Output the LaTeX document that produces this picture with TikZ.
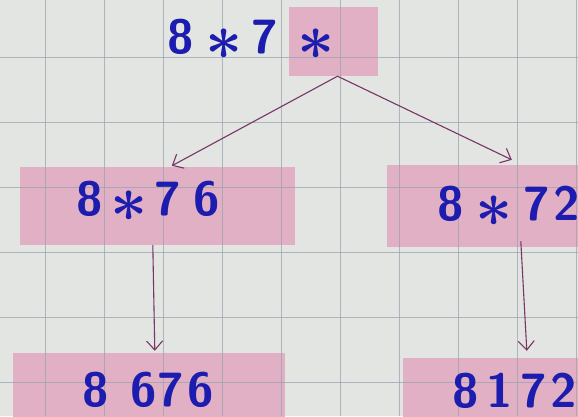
\documentclass[tikz,border=0pt]{standalone}
\usepackage{graphicx}
\usetikzlibrary{arrows.meta}
\definecolor{paper}{RGB}{226,229,226}
\definecolor{gridc}{RGB}{150,162,172}
\definecolor{pinkbox}{RGB}{226,176,196}
\definecolor{ink}{RGB}{28,28,175}
\definecolor{arrowc}{RGB}{122,52,102}
\newcommand\myast{\makebox[32pt]{\smash{\raisebox{-6pt}{\scalebox{2.6}{$\boldsymbol{\ast}$}}}}}
\usepackage{amsmath,bm}
\tikzset{
  box/.style={fill=pinkbox, draw=none, inner sep=0pt},
  hand/.style={text=ink, font=\sffamily\bfseries\fontsize{48}{48}\selectfont, inner sep=0pt},
  link/.style={draw=arrowc, line width=1.1pt, -{Straight Barb[length=9pt,width=16pt,line width=1.1pt]}}
}
\begin{document}
\begin{tikzpicture}[x=1pt,y=-1pt]
\useasboundingbox (0,0) rectangle (578,416);
\clip (0,0) rectangle (578,416);
\fill[paper] (0,0) rectangle (578,416);
% boxes
\node[box, minimum width=89pt, minimum height=69pt] (t) at (333.5,41.5) {};
\node[box, minimum width=275pt, minimum height=78pt] (ml) at (157.5,206) {};
\node[box, minimum width=200pt, minimum height=82pt] (mr) at (487,206) {};
\node[box, minimum width=272pt, minimum height=80pt] (bl) at (149,393) {};
\node[box, minimum width=190pt, minimum height=80pt] (br) at (498,398) {};
% grid
\foreach \gx in {45,104,163,222,281,340,399,458,517,576}
  \draw[gridc, line width=0.8pt, opacity=0.7] (\gx,0) -- (\gx,416);
\foreach \gy in {-8,57,122,187,252,317,382}
  \draw[gridc, line width=0.8pt, opacity=0.7] (0,\gy) -- (578,\gy);
% texts
\node[hand, anchor=west] (tt) at (167,37) {8\hspace{14pt}\myast\hspace{12pt}7\hspace{22pt}\myast};
\node[hand, anchor=west] (mlt) at (76,199) {8\hspace{10pt}\myast\hspace{10pt}7\hspace{12pt}6};
\node[hand, anchor=west] (mrt) at (437,204) {8\hspace{14pt}\myast\hspace{14pt}7\hspace{4pt}2};
\node[hand, anchor=west] (blt) at (82,390) {8\hspace{22pt}6\hspace{1pt}7\hspace{3pt}6};
\node[hand, anchor=west] (brt) at (452,391) {8\hspace{8pt}1\hspace{8pt}7\hspace{3pt}2};
% arrows
\coordinate (ts) at ([xshift=4pt]t.south);
\draw[link] (ts) -- ([xshift=152pt,yshift=1pt]ml.north west);
\draw[link] (ts) -- ([xshift=125pt,yshift=5pt]mr.north west);
\draw[link] ([xshift=133pt]ml.south west) -- ([xshift=142pt,yshift=2pt]bl.north west);
\draw[link] ([xshift=134pt,yshift=6pt]mr.south west) -- ([xshift=124pt,yshift=7pt]br.north west);
\end{tikzpicture}
\end{document}
